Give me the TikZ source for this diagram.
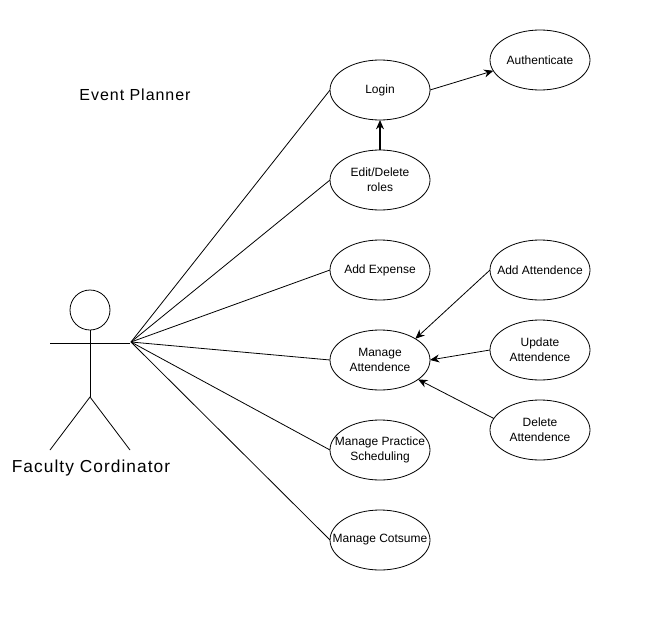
\documentclass[tikz,border=0pt]{standalone}
\usepackage{fontspec}
\setmainfont{Liberation Sans}
\newfontfamily\labelfont[LetterSpace=6]{Liberation Sans}
\usetikzlibrary{positioning, arrows.meta, shapes.geometric}

\tikzset{
    usecase/.style={draw, ellipse, minimum width=75pt, minimum height=45pt, inner xsep=-10pt, inner ysep=0pt, outer sep=0pt, align=center, font=\fontsize{9}{11.25}\selectfont},
    title/.style={font=\labelfont\fontsize{12}{14}\selectfont},
}

\begin{document}
\begin{tikzpicture}[x=0.75pt, y=-0.75pt, node distance=22.5pt, >={Stealth[length=7pt,width=6pt]}, line width=0.6pt]
    \useasboundingbox (0,0) rectangle (649,617);

    % Use cases
    \node[usecase] (login) at (380,90) {Login};
    \node[usecase, below=of login] (roles) {Edit/Delete\\roles};
    \node[usecase, below=of roles] (expense) {Add Expense};
    \node[usecase, below=of expense] (manage) {Manage\\Attendence};
    \node[usecase, below=of manage] (practice) {Manage Practice\\Scheduling};
    \node[usecase, below=of practice] (costume) {Manage Cotsume};
    \node[usecase, right=45pt of login, yshift=22.5pt] (auth) {Authenticate};
    \node[usecase, right=45pt of expense] (addatt) {Add Attendence};
    \node[usecase, below=15pt of addatt] (updatt) {Update\\Attendence};
    \node[usecase, below=15pt of updatt] (delatt) {Delete\\Attendence};

    % Actor
    \node[draw, circle, minimum size=30pt, inner sep=0pt] (head) at (90,310) {};
    \coordinate (hip) at (90,397);
    \coordinate (armleft) at (50,343);
    \coordinate (armright) at (130,343);
    \coordinate (footleft) at (50,450);
    \coordinate (footright) at (130,450);
    \coordinate (hand) at (131,342);
    \draw (head) -- (hip);
    \draw (armleft) -- (armright);
    \draw (footleft) -- (hip) -- (footright);

    % Labels
    \node[title] (planner) at (135,95) {Event Planner};
    \node[title, font=\labelfont\fontsize{13}{15}\selectfont] (faculty) at (91,468.5) {Faculty Cordinator};

    % Connections
    \draw (hand) -- (login.west);
    \draw (hand) -- (roles.west);
    \draw (hand) -- (expense.west);
    \draw (hand) -- (manage.west);
    \draw (hand) -- (practice.west);
    \draw (hand) -- (costume.west);
    \draw[->] (login.east) -- (auth.193);
    \draw[->, line width=0.9pt] (roles) -- (login);
    \draw[->] (addatt.west) -- (manage.north east);
    \draw[->] (updatt.west) -- (manage.east);
    \draw[->] (delatt.166) -- (manage.-27);
\end{tikzpicture}
\end{document}
